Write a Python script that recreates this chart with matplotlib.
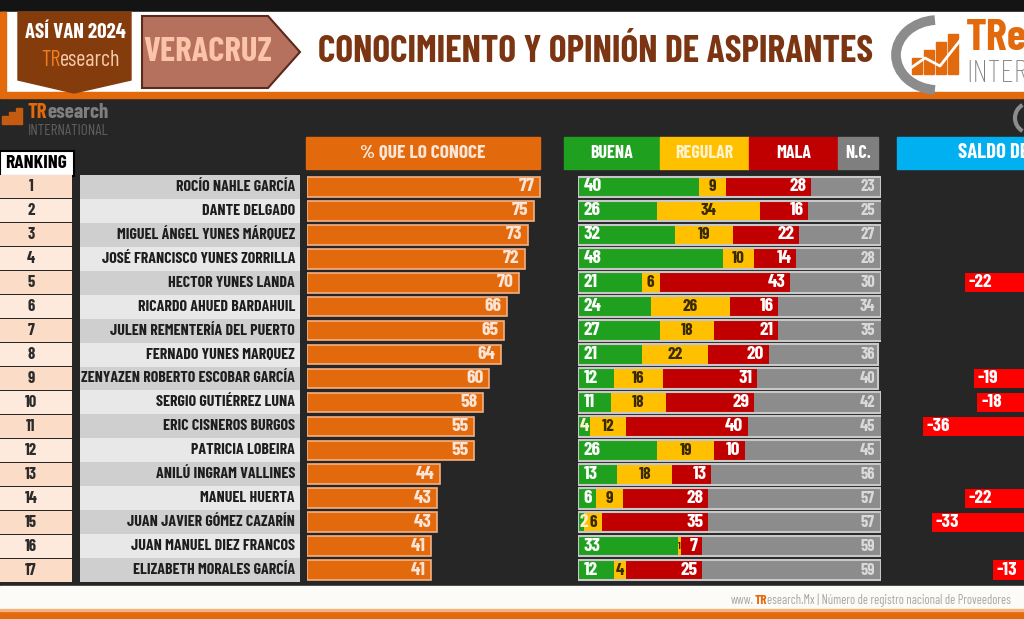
import matplotlib.pyplot as plt
from matplotlib.patches import Rectangle, Polygon, Arc

W, H = 1024, 619
plt.rcParams['font.family'] = ['Barlow Condensed', 'DejaVu Sans']
plt.rcParams['font.weight'] = 'bold'

# data
ranking = list(range(1, 18))
names = ['ROCÍO NAHLE GARCÍA', 'DANTE DELGADO', 'MIGUEL ÁNGEL YUNES MÁRQUEZ',
         'JOSÉ FRANCISCO YUNES ZORRILLA', 'HECTOR YUNES LANDA', 'RICARDO AHUED BARDAHUIL',
         'JULEN REMENTERÍA DEL PUERTO', 'FERNADO YUNES MARQUEZ',
         'ZENYAZEN ROBERTO ESCOBAR GARCÍA', 'SERGIO GUTIÉRREZ LUNA', 'ERIC CISNEROS BURGOS',
         'PATRICIA LOBEIRA', 'ANILÚ INGRAM VALLINES', 'MANUEL HUERTA',
         'JUAN JAVIER GÓMEZ CAZARÍN', 'JUAN MANUEL DIEZ FRANCOS', 'ELIZABETH MORALES GARCÍA']
conoce = [77, 75, 73, 72, 70, 66, 65, 64, 60, 58, 55, 55, 44, 43, 43, 41, 41]
buena = [40, 26, 32, 48, 21, 24, 27, 21, 12, 11, 4, 26, 13, 6, 2, 33, 12]
regular = [9, 34, 19, 10, 6, 26, 18, 22, 16, 18, 12, 19, 18, 9, 6, 1, 4]
mala = [28, 16, 22, 14, 43, 16, 21, 20, 31, 29, 40, 10, 13, 28, 35, 7, 25]
nc = [23, 25, 27, 28, 30, 34, 35, 36, 40, 42, 45, 45, 56, 57, 57, 59, 59]
saldo = [12, 10, 10, 34, -22, 8, 6, 1, -19, -18, -36, 16, 0, -22, -33, 26, -13]

ORANGE = '#E2690C'
BG = '#262626'

fig = plt.figure(figsize=(W / 100, H / 100), dpi=100)
fig.patch.set_facecolor(BG)


def px_axes(x0, y0, x1, y1, z=1):
    ax = fig.add_axes([x0 / W, 1 - y1 / H, (x1 - x0) / W, (y1 - y0) / H], zorder=z)
    ax.patch.set_alpha(0)
    ax.axis('off')
    return ax


# background / decoration layer in pixel coordinates
bg = fig.add_axes([0, 0, 1, 1], zorder=0)
bg.set_xlim(0, W)
bg.set_ylim(H, 0)
bg.axis('off')


def box(x0, y0, x1, y1, color, **kw):
    bg.add_patch(Rectangle((x0, y0), x1 - x0, y1 - y0, color=color, **kw))


box(0, 0, W, 12, '#141414')
box(0, 12, W, 92, '#FFFFFF')
box(0, 92, W, 98, ORANGE)
box(0, 12, 6, 92, ORANGE)
box(0, 586, W, 611, '#FDFBF8')
box(0, 611, W, 619, ORANGE)
box(0, 609, W, 611, '#F4B183')

# "ASÍ VAN 2024" pennant
bg.add_patch(Polygon([(18, 12), (131, 12), (131, 80), (74, 93), (18, 80)], color='#843C0C'))
bg.text(75, 33, 'ASÍ VAN 2024', color='white', fontsize=15, ha='center', va='center')
bg.text(60, 60, 'TR', color='#F27B1E', fontsize=16, ha='right', va='center', fontweight='normal')
bg.text(60, 60, 'esearch', color='#F8CBAD', fontsize=16, ha='left', va='center', fontweight='normal')

# VERACRUZ arrow
bg.add_patch(Polygon([(142, 16), (268, 16), (300, 52), (268, 88), (142, 88)],
                     facecolor='#B6705E', edgecolor='#5A2A1A', lw=1.5))
bg.text(208, 52, 'VERACRUZ', color='#FBC3A8', fontsize=25, ha='center', va='center')

bg.text(596, 52, 'CONOCIMIENTO Y OPINIÓN DE ASPIRANTES', color='#7B3512', fontsize=27,
        ha='center', va='center')

# logo at the top right
bg.add_patch(Arc((938, 55), 84, 70, theta1=95, theta2=265, color='#8C8C8C', lw=7))
for bx, bh in [(912, 16), (924, 24), (936, 32), (948, 40)]:
    box(bx, 74 - bh, bx + 10, 74, ORANGE)
bg.plot([908, 925, 940, 962], [70, 58, 66, 38], color='white', lw=2)
bg.text(966, 39, 'TResearch', color=ORANGE, fontsize=32, ha='left', va='center')
bg.text(966, 74, 'INTERNATIONAL', color='#7F7F7F', fontsize=23, ha='left', va='center',
        fontweight='light')

# small logo in the body
for bx, bh in [(2, 8), (9, 12), (16, 16)]:
    box(bx, 124 - bh, bx + 6, 124, '#C55A11')
bg.text(27, 113, 'TR', color=ORANGE, fontsize=15, ha='left', va='center')
bg.text(47, 113, 'esearch', color='#7F7F7F', fontsize=15, ha='left', va='center')
bg.text(28, 131, 'INTERNATIONAL', color='#5F5F5F', fontsize=11, ha='left', va='center',
        fontweight='normal')
bg.add_patch(Arc((1030, 118), 30, 30, theta1=120, theta2=240, color='#8C8C8C', lw=3))

# column headers
box(306, 137, 540, 169, ORANGE)
bg.text(423, 153, '% QUE LO CONOCE', color='#FBE5D6', fontsize=14, ha='center', va='center')
for x0, x1, c, t, tc in [(564, 660, '#1FA01F', 'BUENA', 'white'),
                         (660, 749, '#FFC000', 'REGULAR', '#FFF2CC'),
                         (749, 838, '#C00000', 'MALA', 'white'),
                         (838, 878, '#7F7F7F', 'N.C.', 'white')]:
    box(x0, 137, x1, 169, c)
    bg.text((x0 + x1) / 2, 153, t, color=tc, fontsize=13, ha='center', va='center')
box(897, 137, W, 169, '#00B0F0')
bg.text(958, 153, 'SALDO DE OPINIÓN', color='white', fontsize=15, ha='left', va='center')

box(0, 151, 74, 176, 'white', ec='black', lw=1.5)
bg.text(36, 164, 'RANKING', color='black', fontsize=14, ha='center', va='center')

bg.text(754, 600, 'www.', color='#A6A6A6', fontsize=9, ha='right', va='center',
        fontweight='normal')
bg.text(755, 600, 'TR', color=ORANGE, fontsize=9.5, ha='left', va='center')
bg.text(767, 600, 'esearch.Mx | Número de registro nacional de Proveedores', color='#A6A6A6',
        fontsize=9, ha='left', va='center', fontweight='normal')

rows = list(range(len(names)))
Y0, Y1 = 175, 582

# ranking and name bands
tab = px_axes(0, Y0, 300, Y1)
tab.set_xlim(0, 300)
tab.set_ylim(16.5, -0.5)
rank_col = ['#FBDCC6' if i % 2 == 0 else '#FDEADD' for i in rows]
name_col = ['#CFCFCF' if i % 2 == 0 else '#E8E8E8' for i in rows]
tab.barh(rows, 72, left=0, height=0.96, color=rank_col)
tab.barh(rows, 220, left=80, height=1.0, color=name_col)
for i in rows:
    tab.text(31, i, str(ranking[i]), color='#2B2B2B', fontsize=12, ha='center', va='center')
    tab.text(295, i, names[i], color='#1E1E1E', fontsize=11.5, ha='right', va='center')

# % que lo conoce
kn = px_axes(307, Y0, 610, Y1, 2)
kn.set_xlim(0, 100)
kn.set_ylim(16.5, -0.5)
kn.barh(rows, conoce, height=0.82, color=ORANGE, edgecolor='#F4B183', lw=1.2)
for i in rows:
    kn.text(conoce[i] - 1.8, i, str(conoce[i]), color='#FCE4D6', fontsize=14,
            ha='right', va='center')

# opinion stacked bars
op = px_axes(578, Y0, 881, Y1, 3)
op.set_xlim(0, 100)
op.set_ylim(16.5, -0.5)
left_reg = [b for b in buena]
left_mal = [b + r for b, r in zip(buena, regular)]
left_nc = [b + r + m for b, r, m in zip(buena, regular, mala)]
op.barh(rows, buena, height=0.8, color='#1FA01F')
op.barh(rows, regular, left=left_reg, height=0.8, color='#FFC000')
op.barh(rows, mala, left=left_mal, height=0.8, color='#C00000')
op.barh(rows, nc, left=left_nc, height=0.8, color='#8C8C8C')
op.barh(rows, [b + r + m + n for b, r, m, n in zip(buena, regular, mala, nc)],
        height=0.86, color='none', edgecolor='#C8C8C8', lw=1.5)
for i in rows:
    op.text(1.8 if buena[i] > 5 else 0.6, i, str(buena[i]),
            color='white' if buena[i] > 5 else '#FFF2CC', fontsize=14, ha='left', va='center')
    op.text(left_reg[i] + regular[i] / 2, i, str(regular[i]), color='#3A2A00',
            fontsize=12.5 if regular[i] > 2 else 7, ha='center', va='center')
    op.text(left_nc[i] - 1.5, i, str(mala[i]), color='white', fontsize=14, ha='right', va='center')
    op.text(98, i, str(nc[i]), color='#D9D9D9', fontsize=12, ha='right', va='center')

# saldo de opinion (zero lies just past the right edge)
sd = px_axes(900, Y0, 1164, Y1, 2)
sd.set_xlim(-43.5, 43.5)
sd.set_ylim(16.5, -0.5)
sd.barh(rows, saldo, height=0.8, color=['#FF0000' if s < 0 else '#00B050' for s in saldo])
for i in rows:
    if saldo[i] < 0:
        sd.text(saldo[i] + 1.2, i, str(saldo[i]), color='white', fontsize=14,
                ha='left', va='center')

fig.savefig('out.png', dpi=100, facecolor=fig.get_facecolor())
